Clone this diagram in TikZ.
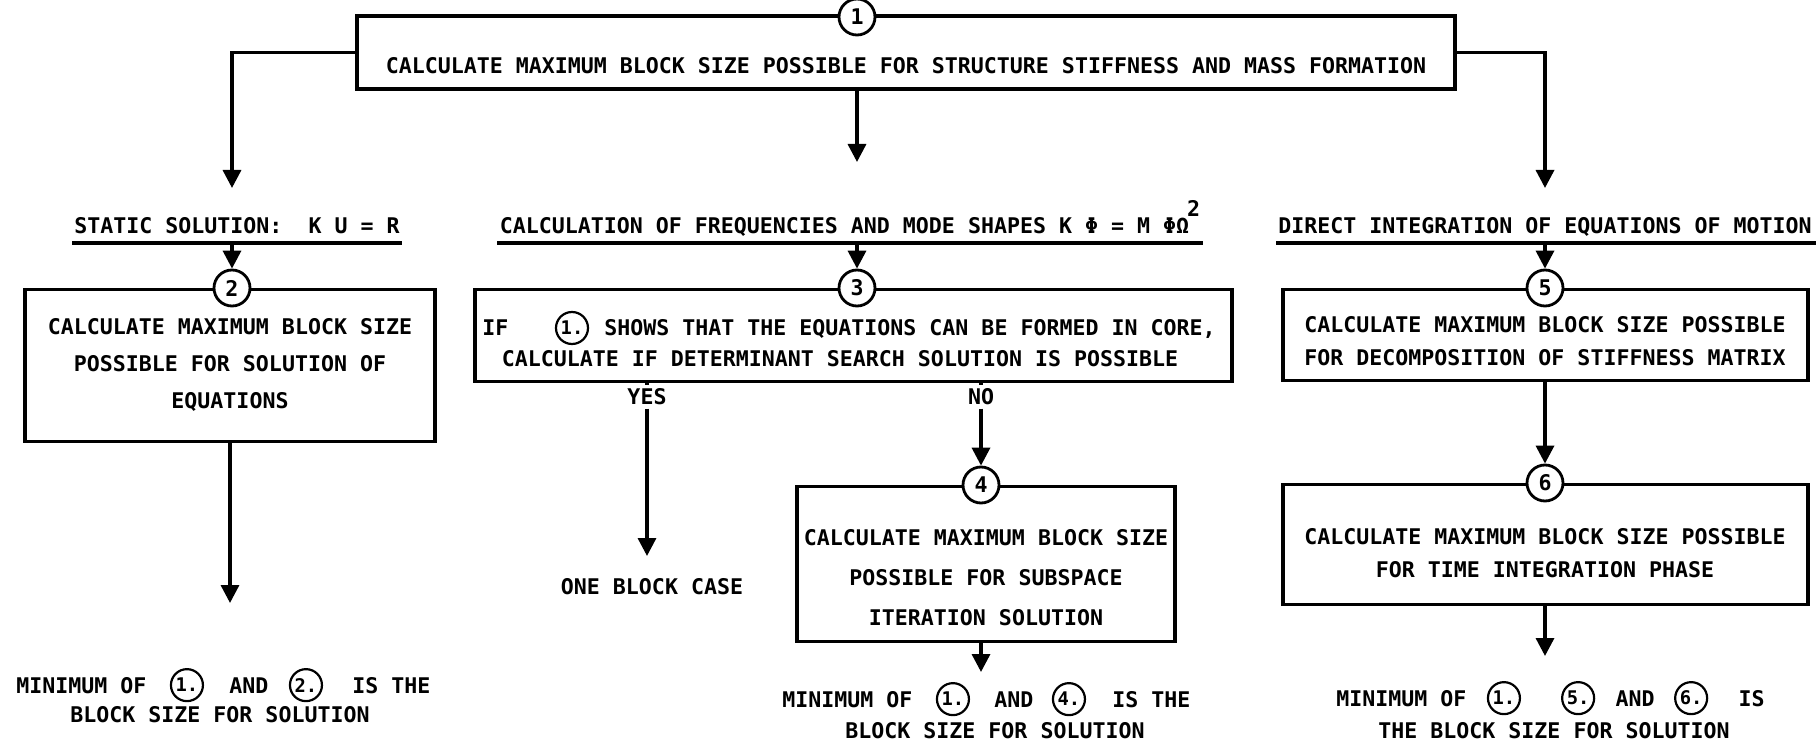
\documentclass[tikz,border=0pt]{standalone}
\usepackage{fontspec}
\usetikzlibrary{arrows.meta,positioning}
\newfontfamily\dmono{DejaVu Sans Mono}
\newcommand\tfs[1]{\dmono\bfseries\fontsize{10.8}{#1}\selectfont}
\newcommand\sfs{\dmono\bfseries\fontsize{9.4}{10}\selectfont}
\begin{document}
\begin{tikzpicture}[x=0.5pt,y=-0.5pt,
  txt/.style={font=\tfs{13}, inner sep=0pt},
  lbl/.style={font=\tfs{13}, inner xsep=0pt, inner ysep=1.5pt},
  flowbox/.style={draw, line width=1.6pt, inner sep=0pt},
  topbox/.style={draw, line width=2pt, inner sep=0pt},
  numc/.style={circle, draw, fill=white, line width=1.4pt, minimum size=18pt, inner sep=0pt, font=\tfs{13}},
  incirc/.style={circle, draw, line width=1.1pt, minimum size=16pt, inner sep=0pt, font=\sfs},
  arr/.style={line width=1.7pt, -{Triangle[width=9pt,length=9pt]}},
  conn/.style={line width=1.7pt},
  uline/.style={line width=2.3pt}]
\useasboundingbox (0,0) rectangle (1817,754);
\fill[white] (0,0) rectangle (1817,754);

% ---- top box
\node[topbox, minimum width=549pt, minimum height=36.5pt] (b1) at (906,52.5) {};
\node[numc] (c1) at (857,17) {1};
\node[txt] (t1) at (906,66) {CALCULATE MAXIMUM BLOCK SIZE POSSIBLE FOR STRUCTURE STIFFNESS AND MASS FORMATION};
\coordinate (a1) at (232,188);
\coordinate (a2) at (857,162);
\coordinate (a3) at (1545,188);
\draw[arr] (b1.west) -| (a1);
\draw[arr] (c1 |- b1.south) -- (a2);
\draw[arr] (b1.east) -| (a3);

% ---- headings
\node[txt, anchor=base] (h1) at (237,234) {STATIC SOLUTION:~~K U = R};
\node[txt, anchor=base] (h2) at (850,234) {CALCULATION OF FREQUENCIES AND MODE SHAPES K Φ = M ΦΩ\kern-1pt\raisebox{8.5pt}{2}};
\node[txt, anchor=base] (h3) at (1545,234) {DIRECT INTEGRATION OF EQUATIONS OF MOTION};
\coordinate (u1) at (232,243);
\coordinate (u2) at (857,243);
\coordinate (u3) at (1545,243);
\draw[uline] ([xshift=-1pt]h1.west |- u1) -- ([xshift=1pt]h1.east |- u1);
\draw[uline] ([xshift=-1pt]h2.west |- u2) -- ([xshift=1pt]h2.east |- u2);
\draw[uline] ([xshift=-1pt]h3.west |- u3) -- ([xshift=2pt]h3.east |- u3);

% ---- box 2
\node[flowbox, minimum width=205pt, minimum height=76pt, anchor=north] (b2) at (230,288) {};
\node[numc] (c2) at (232,288) {2};
\draw[arr] (u1) -- (c2.north);
\node[txt, align=center, font=\tfs{18.5}] (t2) at (230,365) {CALCULATE MAXIMUM BLOCK SIZE\\POSSIBLE FOR SOLUTION OF\\EQUATIONS};
\coordinate (a4) at (230,603);
\draw[arr] (b2.south) -- (a4);

% ---- box 3
\node[flowbox, minimum width=378.5pt, minimum height=46pt, anchor=north] (b3) at (853.5,288) {};
\node[numc] (c3) at (857,288) {3};
\draw[arr] (u2) -- (c3.north);
\node[txt, anchor=base west] (t3a) at (482,336) {IF};
\node[incirc] (t3c) at (572,328) {1.};
\node[txt, anchor=base west] (t3b) at (604,336) {SHOWS THAT THE EQUATIONS CAN BE FORMED IN CORE,};
\node[txt, anchor=base] (t3d) at (840,367) {CALCULATE IF DETERMINANT SEARCH SOLUTION IS POSSIBLE};
\node[lbl] (yes) at (647,397) {YES};
\node[lbl] (no) at (981,397) {NO};
\draw[conn] (b3.south -| yes) -- (yes.north);
\draw[conn] (b3.south -| no) -- (no.north);
\coordinate (a5) at (647,556);
\draw[arr] (yes.south) -- (a5);
\node[txt] (one) at (652,587) {ONE BLOCK CASE};

% ---- box 4
\node[flowbox, minimum width=189pt, minimum height=77.5pt, anchor=north] (b4) at (986,485) {};
\node[numc] (c4) at (981,485) {4};
\draw[arr] (no.south) -- (c4.north);
\node[txt, align=center, font=\tfs{20}] (t4) at (986,578) {CALCULATE MAXIMUM BLOCK SIZE\\POSSIBLE FOR SUBSPACE\\ITERATION SOLUTION};
\coordinate (a6) at (981,672);
\draw[arr] (c4 |- b4.south) -- (a6);

% ---- box 5
\node[flowbox, minimum width=262.5pt, minimum height=45.5pt, anchor=north] (b5) at (1545.5,288) {};
\node[numc] (c5) at (1545,288) {5};
\draw[arr] (u3) -- (c5.north);
\node[txt, align=center, font=\tfs{16.5}] (t5) at (1545,341) {CALCULATE MAXIMUM BLOCK SIZE POSSIBLE\\FOR DECOMPOSITION OF STIFFNESS MATRIX};

% ---- box 6
\node[flowbox, minimum width=262.5pt, minimum height=60pt, anchor=north] (b6) at (1545.5,483) {};
\node[numc] (c6) at (1545,483) {6};
\draw[arr] (c5 |- b5.south) -- (c6.north);
\node[txt, align=center, font=\tfs{16.5}] (t6) at (1545,553) {CALCULATE MAXIMUM BLOCK SIZE POSSIBLE\\FOR TIME INTEGRATION PHASE};
\coordinate (a7) at (1545,656);
\draw[arr] (c6 |- b6.south) -- (a7);

% ---- bottom texts: left
\node[txt, anchor=base west] (m1a) at (16,693) {MINIMUM OF};
\node[incirc, right=11.5pt of m1a] (m1b) {1.};
\node[txt, right=12.5pt of m1b] (m1c) {AND};
\node[incirc, right=10pt of m1c] (m1d) {2.};
\node[txt, right=14.5pt of m1d] (m1e) {IS THE};
\node[txt, anchor=base] (m1f) at (220,722) {BLOCK SIZE FOR SOLUTION};

% ---- bottom texts: middle
\node[txt, anchor=base west] (m2a) at (782,707) {MINIMUM OF};
\node[incirc, right=11.5pt of m2a] (m2b) {1.};
\node[txt, right=12pt of m2b] (m2c) {AND};
\node[incirc, right=9pt of m2c] (m2d) {4.};
\node[txt, right=13pt of m2d] (m2e) {IS THE};
\node[txt, anchor=base] (m2f) at (995,738) {BLOCK SIZE FOR SOLUTION};

% ---- bottom texts: right
\node[txt, anchor=base west] (m3a) at (1336,706) {MINIMUM OF};
\node[incirc, right=10pt of m3a] (m3b) {1.};
\node[incirc, right=20pt of m3b] (m3c) {5.};
\node[txt, right=10pt of m3c] (m3d) {AND};
\node[incirc, right=9.5pt of m3d] (m3e) {6.};
\node[txt, right=15pt of m3e] (m3f) {IS};
\node[txt, anchor=base] (m3g) at (1554,738) {THE BLOCK SIZE FOR SOLUTION};
\end{tikzpicture}
\end{document}
